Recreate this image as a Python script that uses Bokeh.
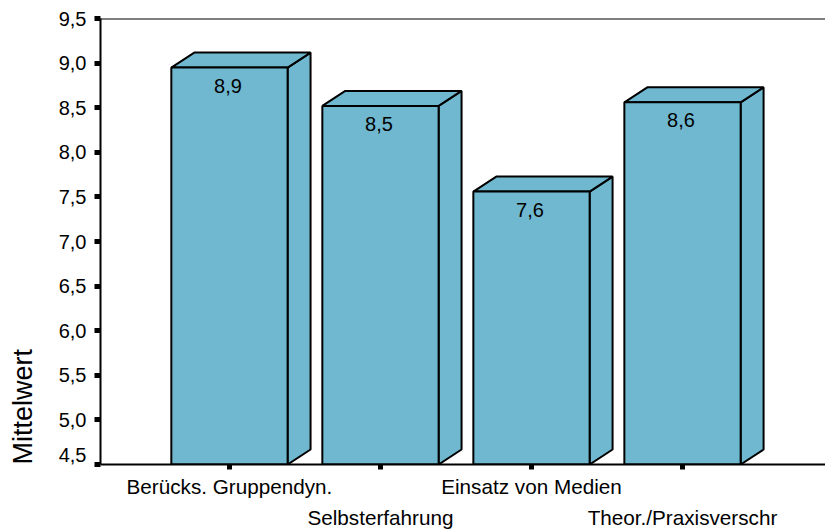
from bokeh.plotting import figure
from bokeh.models import FixedTicker, LinearAxis, Range1d, Span, Title
from bokeh.embed import file_html
from bokeh.resources import INLINE
from bokeh.core.properties import value

categories = ["Berücks. Gruppendyn.", "Selbsterfahrung", "Einsatz von Medien", "Theor./Praxisverschr"]
positions = [1, 2, 3, 4]
means = [8.95, 8.52, 7.56, 8.56]
value_labels = ["8,9", "8,5", "7,6", "8,6"]
y_ticks = [4.5, 5.0, 5.5, 6.0, 6.5, 7.0, 7.5, 8.0, 8.5, 9.0, 9.5]
y_tick_labels = ["4,5", "5,0", "5,5", "6,0", "6,5", "7,0", "7,5", "8,0", "8,5", "9,0", "9,5"]
y_title = "Mittelwert"

FONT = "Liberation Sans"
FILL = "#6FB8CF"
BASE = 4.5
BAR_W = 0.77
DX = 0.152
DY = 0.168

p = figure(width=825, height=531, output_backend="svg", toolbar_location=None,
           x_range=Range1d(0.146, 4.947), y_range=Range1d(BASE, 9.5),
           min_border_left=100, min_border_right=0, min_border_top=18, min_border_bottom=0,
           x_axis_location=None, y_axis_location=None)
p.grid.visible = False
p.outline_line_color = None

left = [c - BAR_W / 2 for c in positions]
right = [c + BAR_W / 2 for c in positions]

side_x = [[r, r + DX, r + DX, r] for r in right]
side_y = [[BASE, BASE + DY, m + DY, m] for m in means]
top_x = [[l, l + DX, r + DX, r] for l, r in zip(left, right)]
top_y = [[m, m + DY, m + DY, m] for m in means]

p.patches(side_x, side_y, fill_color=FILL, line_color="black", line_width=2)
p.patches(top_x, top_y, fill_color=FILL, line_color="black", line_width=2)
p.quad(left=left, right=right, bottom=BASE, top=means, fill_color=FILL, line_color="black", line_width=2)
p.text(x=positions, y=means, text=value_labels, text_font=value(FONT), text_font_size="20px",
       text_align="center", text_baseline="middle", x_offset=-1.5, y_offset=18, text_color="black")

overrides = {t: s for t, s in zip(y_ticks, y_tick_labels)}
overrides[y_ticks[0]] = y_tick_labels[0] + "\n "
yaxis = LinearAxis(ticker=FixedTicker(ticks=y_ticks), major_label_overrides=overrides)
yaxis.axis_line_width = 2
yaxis.major_tick_line_width = 5
yaxis.major_tick_in = 0
yaxis.major_tick_out = 6
yaxis.minor_tick_line_color = None
yaxis.major_label_text_font = FONT
yaxis.major_label_text_font_size = "20px"
yaxis.major_label_text_color = "black"
yaxis.major_label_text_line_height = 0.9
yaxis.major_label_standoff = 8
yaxis.axis_label = " "
yaxis.axis_label_text_font_size = "1px"
yaxis.axis_label_standoff = 14
p.add_layout(yaxis, "left")

p.add_layout(Title(text=y_title, align="left", text_font=FONT, text_font_size="27px",
                   text_font_style="normal", text_color="black", standoff=0), "left")

row1 = LinearAxis(ticker=FixedTicker(ticks=positions),
                  major_label_overrides={1: categories[0], 2: " ", 3: categories[2], 4: " "})
row2 = LinearAxis(ticker=FixedTicker(ticks=positions),
                  major_label_overrides={1: " ", 2: categories[1], 3: " ", 4: categories[3]})
for ax in (row1, row2):
    ax.minor_tick_line_color = None
    ax.major_label_text_font = FONT
    ax.major_label_text_font_size = "20.7px"
    ax.major_label_text_color = "black"
row1.axis_line_width = 2
row1.major_tick_line_width = 5
row1.major_tick_in = 0
row1.major_tick_out = 5
row1.major_label_standoff = 5
row2.axis_line_color = None
row2.major_tick_line_color = None
row2.major_tick_in = 0
row2.major_tick_out = 0
row2.major_label_standoff = 5
p.add_layout(row1, "below")
p.add_layout(row2, "below")

p.add_layout(Span(location=9.5, dimension="width", line_color="black", line_width=2))

open("out.html", "w").write(file_html(p, INLINE))
